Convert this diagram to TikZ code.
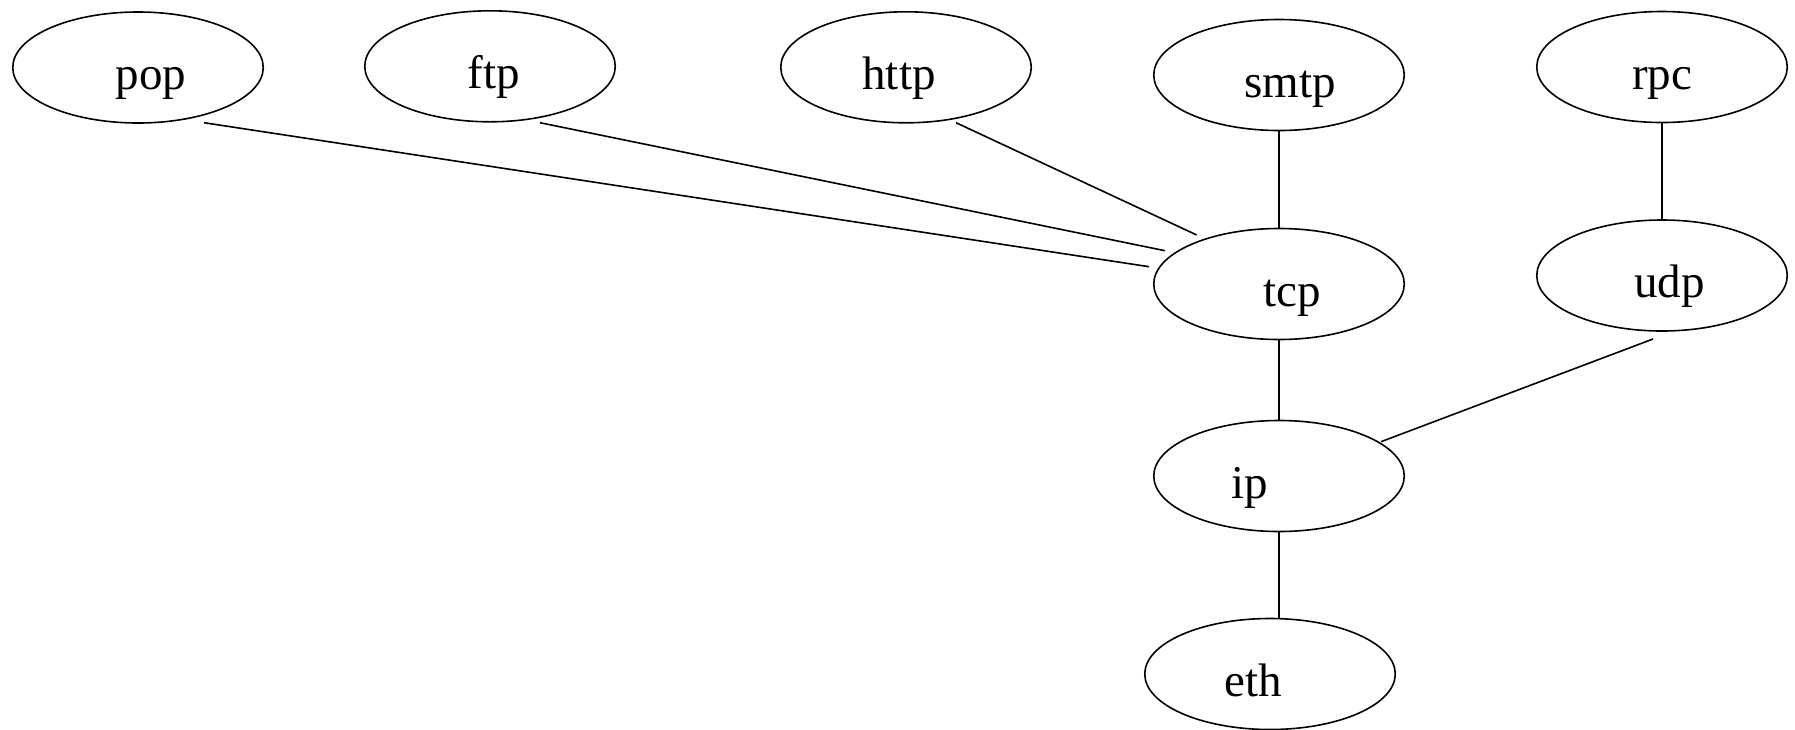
\documentclass[tikz,border=0pt]{standalone}
\usepackage{fontspec}
\setmainfont{Liberation Serif}
\usetikzlibrary{shapes.geometric}

% label set off from the middle of its ellipse
\newcommand{\nudge}[2]{\makebox[0pt]{\hspace*{#1}#2}}

\begin{document}
\begin{tikzpicture}[x=1pt, y=-1pt,
  proto/.style={draw, ellipse, line width=1.6pt, minimum width=250.5pt,
    minimum height=111pt, inner sep=0pt, text height=44pt, text depth=0pt,
    font=\fontsize{47}{56}\selectfont},
  link/.style={line width=1.6pt}]
\useasboundingbox (0,0) rectangle (1795,729);

% Applications
\node[proto] (pop) at (138,67.5) {\nudge{26pt}{pop}};
\node[proto] (ftp) at (490,66.3) {\nudge{8pt}{ftp}};
\node[proto] (http) at (906,67.3) {\nudge{-14pt}{http}};
\node[proto] (smtp) at (1279,75) {\nudge{22pt}{smtp}};
\node[proto] (rpc) at (1662,67) {rpc};

% Transport, network, link
\node[proto] (tcp) at (1279,284) {\nudge{26pt}{tcp}};
\node[proto] (udp) at (1662,275.5) {\nudge{15pt}{udp}};
\node[proto] (ip) at (1279,476) {\nudge{-58pt}{ip}};
\node[proto] (eth) at (1270,674) {\nudge{-34pt}{eth}};

% Links
\draw[link] ([shift={(66,55.2)}]pop.center) -- ([shift={(-130,-17.3)}]tcp.center);
\draw[link] ([shift={(50,56.4)}]ftp.center) -- ([shift={(-114,-33.3)}]tcp.center);
\draw[link] ([shift={(50,55.4)}]http.center) -- ([shift={(-82.3,-49)}]tcp.center);
\draw[link] (smtp.south) -- (tcp.north);
\draw[link] (rpc.south) -- (udp.north);
\draw[link] (tcp.south) -- (ip.north);
\draw[link] ([shift={(-9,63.5)}]udp.center) -- ([shift={(102,-34.3)}]ip.center);
\draw[link] (ip.south) -- (ip.south |- eth.north);
\end{tikzpicture}
\end{document}
